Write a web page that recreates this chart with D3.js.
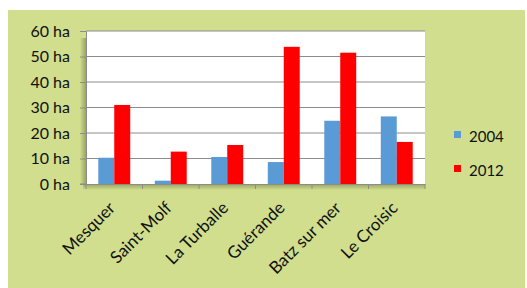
<!DOCTYPE html>
<html><head><meta charset="utf-8">
<script src="https://cdn.jsdelivr.net/npm/d3@7"></script>
<style>body{margin:0;background:#fff}svg{display:block}</style>
</head><body>
<script>
const categories = ["Mesquer","Saint-Molf","La Turballe","Guérande","Batz sur mer","Le Croisic"];
const series = ["2004","2012"];
const values2004 = [10.3, 1.3, 10.6, 8.6, 24.8, 26.5];
const values2012 = [31.0, 12.7, 15.3, 53.8, 51.5, 16.5];
const yTicks = [0,10,20,30,40,50,60];
const colors = ["#5b9bd5","#ff0000"];

const W=527,H=288;
const FONT="Lato, 'Open Sans', sans-serif";
const svg=d3.select("body").append("svg").attr("width",W).attr("height",H);
svg.append("rect").attr("x",8).attr("y",10).attr("width",517).attr("height",278).attr("fill","#d0de8e");

const L=86,R=425,T=31,B=184;
const defs=svg.append("defs");
const gl=defs.append("linearGradient").attr("id","shL").attr("x1","0").attr("x2","1");
gl.append("stop").attr("offset","0").attr("stop-color","#d0de8e");
gl.append("stop").attr("offset","1").attr("stop-color","#9aa45e");
const gb=defs.append("linearGradient").attr("id","shB").attr("x1","0").attr("x2","0").attr("y1","0").attr("y2","1");
gb.append("stop").attr("offset","0").attr("stop-color","#9aa45e");
gb.append("stop").attr("offset","1").attr("stop-color","#d0de8e");
svg.append("rect").attr("x",L-6).attr("y",T+7).attr("width",6).attr("height",B-T-7).attr("fill","url(#shL)");
svg.append("rect").attr("x",L-3).attr("y",B).attr("width",R-L+3).attr("height",6).attr("fill","url(#shB)");
svg.append("rect").attr("x",L).attr("y",T).attr("width",R-L).attr("height",B-T).attr("fill","#fff");

const x=d3.scaleBand().domain(categories).range([L,R]).paddingInner(0).paddingOuter(0);
const x1=d3.scaleBand().domain(series).range([0,x.bandwidth()]).paddingInner(0).paddingOuter(0.77);
const y=d3.scaleLinear().domain([0,60]).range([B,T]);

svg.append("g").selectAll("line").data(yTicks.slice(1)).join("line")
 .attr("x1",L).attr("x2",R).attr("y1",d=>y(d)).attr("y2",d=>y(d)).attr("stroke","#8c8c8c").attr("stroke-width",1);

const groups=svg.append("g").selectAll("g").data(categories).join("g").attr("transform",d=>`translate(${x(d)},0)`);
groups.selectAll("rect").data((d,i)=>[values2004[i],values2012[i]].map((v,j)=>({s:series[j],v,c:colors[j]}))).join("rect")
 .attr("x",d=>x1(d.s)).attr("width",x1.bandwidth()).attr("y",d=>y(d.v)).attr("height",d=>B-y(d.v)).attr("fill",d=>d.c);

const yAxis=svg.append("g").attr("transform",`translate(${L},0)`)
 .call(d3.axisLeft(y).tickValues(yTicks).tickFormat(d=>d+" ha").tickSize(6).tickPadding(10));
yAxis.select(".domain").attr("stroke","#8c8c8c");
yAxis.selectAll(".tick line").attr("stroke","#8c8c8c");
yAxis.selectAll("text").attr("font-family",FONT).attr("font-size",16).attr("fill","#111");

const xAxis=svg.append("g").attr("transform",`translate(0,${B})`)
 .call(d3.axisBottom(x).tickSize(0).tickFormat(""));
xAxis.select(".domain").attr("stroke","#8c8c8c");
const tickXs=d3.range(categories.length+1).map(i=>L+i*x.step());
svg.append("g").selectAll("line").data(tickXs).join("line")
 .attr("x1",d=>d).attr("x2",d=>d).attr("y1",B).attr("y2",B+5).attr("stroke","#8c8c8c");
svg.append("line").attr("x1",L-6).attr("x2",L).attr("y1",B).attr("y2",B).attr("stroke","#8c8c8c");

svg.append("g").selectAll("text").data(categories).join("text")
 .attr("transform",d=>`translate(${x(d)+x.bandwidth()/2+2},${B+25}) rotate(-45)`)
 .attr("text-anchor","end").attr("font-family",FONT).attr("font-size",17).attr("fill","#111")
 .text(d=>d);

const leg=svg.append("g").selectAll("g").data(series).join("g").attr("transform",(d,i)=>`translate(454,${131+i*34})`);
leg.append("rect").attr("width",7).attr("height",7).attr("fill",(d,i)=>colors[i]);
leg.append("text").attr("x",15).attr("y",11).attr("font-family",FONT).attr("font-size",15).attr("fill","#111").text(d=>d);
</script>
</body></html>
